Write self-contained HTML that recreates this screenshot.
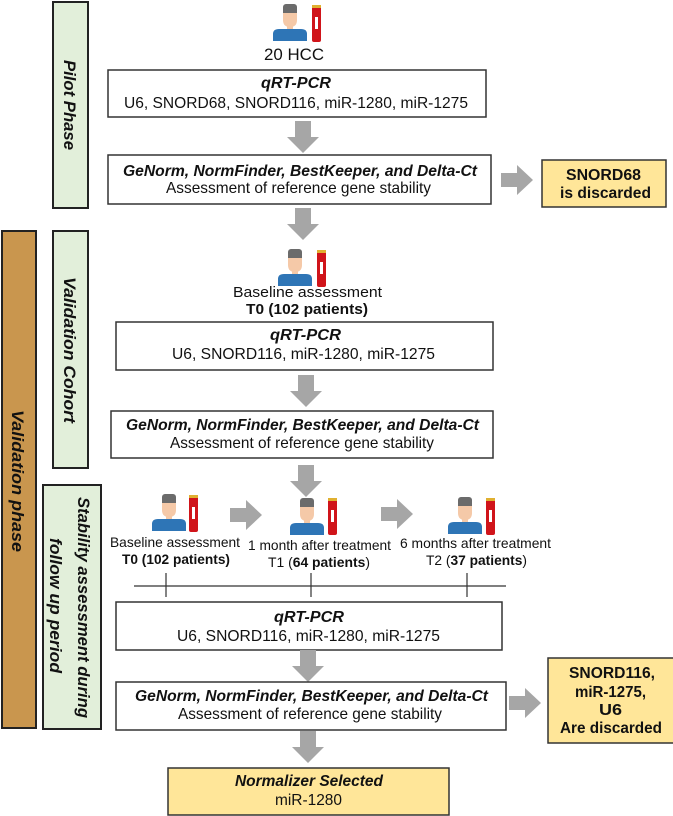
<!DOCTYPE html>
<html><head><meta charset="utf-8"><style>
html,body{margin:0;padding:0;background:#fff}
svg{display:block}
text{font-family:"Liberation Sans",Arial,sans-serif;fill:#111}
.b{font-weight:bold}.bi{font-weight:bold;font-style:italic}
</style></head><body>
<svg width="673" height="816" viewBox="0 0 673 816" xmlns="http://www.w3.org/2000/svg">
<defs>
<g id="p">
<rect x="10" y="0" width="14" height="8" rx="3" fill="#6b6b6b"/>
<path d="M10 6 h14 v10 q0 7 -7 7 q-7 0 -7 -7z" fill="#f5c9a8"/>
<rect x="10" y="3" width="14" height="6" fill="#6b6b6b"/>
<rect x="14" y="21" width="6" height="5" fill="#f5c9a8"/>
<path d="M0 37 v-7 q0 -5 6 -5 h22 q6 0 6 5 v7z" fill="#2e75b6"/>
</g>
<g id="t">
<rect x="0" y="1" width="9" height="36" rx="2" fill="#d0141a"/>
<rect x="0" y="0" width="9" height="3" fill="#e0b030"/>
<rect x="3" y="12" width="3" height="12" fill="#fff"/>
</g>
<path id="ad" d="M8 0 h16 v16 h8 l-16 16 l-16 -16 h8z" fill="#a6a6a6"/>
<path id="ar" d="M0 8 v14 h16 v8 l16 -15 l-16 -15 v8z" fill="#a6a6a6"/>
</defs>

<rect x="53" y="2" width="35" height="206" fill="#e2efda" stroke="#222" stroke-width="2"/>
<rect x="2" y="231" width="34" height="497" fill="#c9964e" stroke="#222" stroke-width="2"/>
<rect x="53" y="231" width="35" height="237" fill="#e2efda" stroke="#222" stroke-width="2"/>
<rect x="43" y="485" width="58" height="244" fill="#e2efda" stroke="#222" stroke-width="2"/>
<text class="bi" font-size="17" transform="translate(64,60) rotate(90)" textLength="90" lengthAdjust="spacingAndGlyphs">Pilot Phase</text>
<text class="bi" font-size="17" transform="translate(64,277) rotate(90)" textLength="146" lengthAdjust="spacingAndGlyphs">Validation Cohort</text>
<text class="bi" font-size="17" transform="translate(12,410) rotate(90)" textLength="142" lengthAdjust="spacingAndGlyphs">Validation  phase</text>
<text class="bi" font-size="17" transform="translate(78,497) rotate(90)" textLength="221" lengthAdjust="spacingAndGlyphs">Stability assessment during</text>
<text class="bi" font-size="17" transform="translate(50,538) rotate(90)" textLength="135" lengthAdjust="spacingAndGlyphs">follow up period</text>

<use href="#p" x="273" y="4"/><use href="#t" x="312" y="5"/>
<text font-size="17" x="264" y="60" textLength="60" lengthAdjust="spacingAndGlyphs">20 HCC</text>
<rect x="108" y="70" width="378" height="47" fill="#fff" stroke="#333" stroke-width="1.5"/>
<text class="bi" font-size="16" x="261" y="88" textLength="70" lengthAdjust="spacingAndGlyphs">qRT-PCR</text>
<text font-size="16" x="124" y="108" textLength="344" lengthAdjust="spacingAndGlyphs">U6, SNORD68, SNORD116, miR-1280, miR-1275</text>
<use href="#ad" x="287" y="121"/>
<rect x="108" y="155" width="383" height="49" fill="#fff" stroke="#333" stroke-width="1.5"/>
<text class="bi" font-size="16" x="123" y="176" textLength="354" lengthAdjust="spacingAndGlyphs">GeNorm, NormFinder, BestKeeper, and Delta-Ct</text>
<text font-size="16" x="166" y="193" textLength="265" lengthAdjust="spacingAndGlyphs">Assessment of reference gene stability</text>
<use href="#ar" x="501" y="165"/>
<rect x="542" y="160" width="124" height="47" fill="#ffe699" stroke="#333" stroke-width="1.5"/>
<text class="b" font-size="16" x="566" y="180" textLength="75" lengthAdjust="spacingAndGlyphs">SNORD68</text>
<text class="b" font-size="16" x="560" y="198" textLength="91" lengthAdjust="spacingAndGlyphs">is discarded</text>
<use href="#ad" x="287" y="208"/>

<use href="#p" x="278" y="249"/><use href="#t" x="317" y="250"/>
<text font-size="15" x="233" y="297" textLength="149" lengthAdjust="spacingAndGlyphs">Baseline assessment</text>
<text class="b" font-size="15" x="246" y="314" textLength="122" lengthAdjust="spacingAndGlyphs">T0 (102 patients)</text>
<rect x="116" y="322" width="377" height="48" fill="#fff" stroke="#333" stroke-width="1.5"/>
<text class="bi" font-size="16" x="270" y="340" textLength="71" lengthAdjust="spacingAndGlyphs">qRT-PCR</text>
<text font-size="16" x="172" y="359" textLength="263" lengthAdjust="spacingAndGlyphs">U6, SNORD116, miR-1280, miR-1275</text>
<use href="#ad" x="290" y="375"/>
<rect x="111" y="411" width="382" height="47" fill="#fff" stroke="#333" stroke-width="1.5"/>
<text class="bi" font-size="16" x="126" y="430" textLength="353" lengthAdjust="spacingAndGlyphs">GeNorm, NormFinder, BestKeeper, and Delta-Ct</text>
<text font-size="16" x="170" y="448" textLength="264" lengthAdjust="spacingAndGlyphs">Assessment of reference gene stability</text>
<use href="#ad" x="290" y="465"/>

<use href="#p" x="152" y="494"/><use href="#t" x="189" y="495"/>
<use href="#ar" x="230" y="500"/>
<use href="#p" x="290" y="498"/><use href="#t" x="328" y="498"/>
<use href="#ar" x="381" y="499"/>
<use href="#p" x="448" y="497"/><use href="#t" x="486" y="498"/>
<text font-size="14" x="110" y="547" textLength="130" lengthAdjust="spacingAndGlyphs">Baseline assessment</text>
<text class="b" font-size="14" x="122" y="564" textLength="108" lengthAdjust="spacingAndGlyphs">T0 (102 patients)</text>
<text font-size="14" x="248" y="550" textLength="143" lengthAdjust="spacingAndGlyphs">1 month after treatment</text>
<text font-size="14" x="268" y="567" textLength="102" lengthAdjust="spacingAndGlyphs">T1 (<tspan class="b">64 patients</tspan>)</text>
<text font-size="14" x="400" y="548" textLength="151" lengthAdjust="spacingAndGlyphs">6 months after treatment</text>
<text font-size="14" x="426" y="565" textLength="101" lengthAdjust="spacingAndGlyphs">T2 (<tspan class="b">37 patients</tspan>)</text>
<line x1="134" y1="586" x2="506" y2="586" stroke="#555" stroke-width="1.5"/>
<line x1="166" y1="573" x2="166" y2="597" stroke="#333" stroke-width="1.2"/>
<line x1="311" y1="573" x2="311" y2="597" stroke="#333" stroke-width="1.2"/>
<line x1="467" y1="573" x2="467" y2="597" stroke="#333" stroke-width="1.2"/>
<rect x="116" y="602" width="386" height="48" fill="#fff" stroke="#333" stroke-width="1.5"/>
<text class="bi" font-size="16" x="274" y="622" textLength="70" lengthAdjust="spacingAndGlyphs">qRT-PCR</text>
<text font-size="16" x="177" y="641" textLength="263" lengthAdjust="spacingAndGlyphs">U6, SNORD116, miR-1280, miR-1275</text>
<use href="#ad" x="292" y="650"/>
<rect x="116" y="682" width="390" height="48" fill="#fff" stroke="#333" stroke-width="1.5"/>
<text class="bi" font-size="16" x="135" y="701" textLength="353" lengthAdjust="spacingAndGlyphs">GeNorm, NormFinder, BestKeeper, and Delta-Ct</text>
<text font-size="16" x="178" y="719" textLength="264" lengthAdjust="spacingAndGlyphs">Assessment of reference gene stability</text>
<use href="#ar" x="509" y="688"/>
<rect x="548" y="658" width="127" height="85" fill="#ffe699" stroke="#333" stroke-width="1.5"/>
<text class="b" font-size="16" x="569" y="678" textLength="86" lengthAdjust="spacingAndGlyphs">SNORD116,</text>
<text class="b" font-size="16" x="575" y="697" textLength="71" lengthAdjust="spacingAndGlyphs">miR-1275,</text>
<text class="b" font-size="16" x="599" y="715" textLength="23" lengthAdjust="spacingAndGlyphs">U6</text>
<text class="b" font-size="16" x="560" y="733" textLength="102" lengthAdjust="spacingAndGlyphs">Are discarded</text>
<use href="#ad" x="292" y="731"/>
<rect x="168" y="768" width="281" height="47" fill="#ffe699" stroke="#333" stroke-width="1.5"/>
<text class="bi" font-size="16" x="235" y="786" textLength="148" lengthAdjust="spacingAndGlyphs">Normalizer Selected</text>
<text font-size="16" x="275" y="805" textLength="67" lengthAdjust="spacingAndGlyphs">miR-1280</text>
</svg>
</body></html>
